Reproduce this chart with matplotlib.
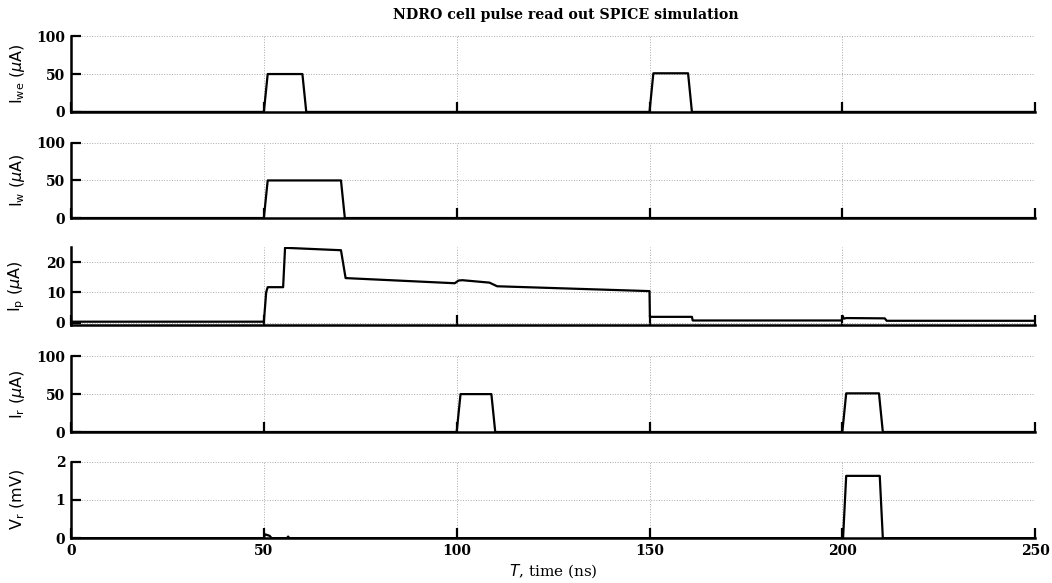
import matplotlib.pyplot as plt
import numpy as np

# time points (ns) and traces
t_we = [0, 50, 51, 60, 61, 150, 151, 160, 161, 250]
i_we = [0, 0, 50, 50, 0, 0, 51, 51, 0, 0]

t_w = [0, 50, 51, 70, 71, 250]
i_w = [0, 0, 50, 50, 0, 0]

t_p = [0, 50, 50.3, 50.6, 51, 55, 55.5, 70, 71.2, 99.5, 100.5, 101.5, 108.5, 110.5,
       150, 150.1, 161, 161.2, 199.8, 200.1, 200.4, 201, 211, 211.5, 250]
i_p = [0.3, 0.3, 5, 10, 11.7, 11.7, 24.7, 23.9, 14.7, 13.0, 13.9, 14.0, 13.2, 12.0,
       10.4, 1.9, 1.9, 0.7, 0.7, 2.2, 1.3, 1.5, 1.4, 0.6, 0.6]

t_r = [0, 100, 101, 109, 110, 200, 201, 209.5, 210.5, 250]
i_r = [0, 0, 50, 50, 0, 0, 51, 51, 0, 0]

t_v = [0, 50, 50.3, 51.5, 52, 56, 56.3, 56.6, 200, 200.2, 201, 209.7, 210.5, 250]
v_r = [0, 0, 0.1, 0.06, 0, 0, 0.04, 0, 0, 0.02, 1.63, 1.63, 0, 0]

labels = [r'$\mathregular{I_{we}}$ ($\mu$A)', r'$\mathregular{I_{w}}$ ($\mu$A)',
          r'$\mathregular{I_{p}}$ ($\mu$A)', r'$\mathregular{I_{r}}$ ($\mu$A)',
          r'$\mathregular{V_{r}}$ (mV)']
yticks = [[0, 50, 100], [0, 50, 100], [0, 10, 20], [0, 50, 100], [0, 1, 2]]
ylims = [(0, 100), (0, 100), (-0.8, 25), (0, 100), (0, 2)]
xticks = [0, 50, 100, 150, 200, 250]

series = [(t_we, i_we), (t_w, i_w), (t_p, i_p), (t_r, i_r), (t_v, v_r)]

fig = plt.figure(figsize=(10.52, 5.83), dpi=100)
# panel boxes [left, bottom, width, height] in figure fraction
bottoms = [0.808, 0.626, 0.4425, 0.259, 0.077]
heights = [0.130, 0.129, 0.134, 0.130, 0.131]

tick_font = dict(family='DejaVu Serif', weight='bold', size=10)

for k, (tt, yy) in enumerate(series):
    ax = fig.add_axes([0.0675, bottoms[k], 0.9165, heights[k]])
    ax.plot(tt, yy, color='black', lw=1.6)
    ax.set_xlim(0, 250)
    ax.set_ylim(*ylims[k])
    ax.set_xticks(xticks)
    ax.set_yticks(yticks[k])
    ax.grid(True, linestyle=':', color='#aaaaaa', lw=0.7)
    ax.spines['top'].set_visible(False)
    ax.spines['right'].set_visible(False)
    ax.spines['left'].set_linewidth(1.8)
    ax.spines['bottom'].set_linewidth(1.8)
    ax.tick_params(direction='in', length=7, width=1.6, pad=4)
    for lab in ax.get_yticklabels():
        lab.set_fontproperties(tick_font)
    if k < 4:
        ax.set_xticklabels([])
    else:
        for lab in ax.get_xticklabels():
            lab.set_fontproperties(tick_font)
        ax.set_xlabel(r'$\mathit{T}$, time (ns)', family='DejaVu Serif', size=11, labelpad=3)
    ax.set_ylabel(labels[k], family='DejaVu Sans', size=11.5, labelpad=4)
    ax.yaxis.set_label_coords(-0.046, 0.5)
    if k == 0:
        ax.set_title('NDRO cell pulse read out SPICE simulation', x=0.513,
                     family='DejaVu Serif', weight='bold', size=10.2, pad=12)

fig.savefig('out.png', dpi=100)
